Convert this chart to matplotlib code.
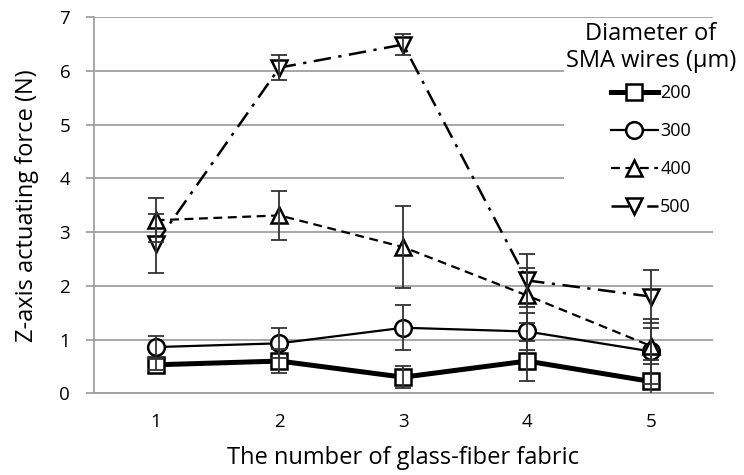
import matplotlib
matplotlib.use("Agg")
import matplotlib.pyplot as plt

plt.rcParams['font.family'] = ['Open Sans', 'DejaVu Sans']

x = [1, 2, 3, 4, 5]
labels = ["200", "300", "400", "500"]
v200 = [0.53, 0.60, 0.30, 0.60, 0.22]
e200 = [0.10, 0.22, 0.20, 0.37, 0.40]
v300 = [0.86, 0.93, 1.22, 1.15, 0.78]
e300 = [0.21, 0.28, 0.42, 0.35, 0.60]
v400 = [3.22, 3.31, 2.72, 1.82, 0.88]
e400 = [0.41, 0.46, 0.76, 0.52, 0.34]
v500 = [2.78, 6.06, 6.49, 2.10, 1.80]
e500 = [0.55, 0.23, 0.19, 0.50, 0.50]

fig = plt.figure(figsize=(7.44, 4.75), dpi=100)
ax = fig.add_axes([0.126, 0.172, 0.832, 0.792])

grey = '#a0a0a0'
ax.set_xlim(0.5, 5.5)
ax.set_ylim(0, 7)
ax.set_yticks(range(0, 8))
ax.set_xticks(x)
ax.yaxis.grid(True, color=grey, lw=1.3)
ax.set_axisbelow(True)
for s in ['top', 'right']:
    ax.spines[s].set_visible(False)
for s in ['left', 'bottom']:
    ax.spines[s].set_color(grey)
    ax.spines[s].set_linewidth(1.3)
ax.tick_params(axis='y', length=6, width=1.3, color=grey, labelsize=13.5, pad=11)
ax.tick_params(axis='x', length=0, labelsize=13.5, pad=14)

styles = [
    dict(values=v200, err=e200, marker='s', lw=3.6, ls='-', ms=11),
    dict(values=v300, err=e300, marker='o', lw=1.6, ls='-', ms=12),
    dict(values=v400, err=e400, marker='^', lw=1.6, ls=(0, (4, 2.5)), ms=12),
    dict(values=v500, err=e500, marker='v', lw=1.8, ls=(0, (7, 3, 1.3, 3)), ms=12),
]
handles = []
for lab, st in zip(labels, styles):
    h, = ax.plot(x, st['values'], color='black', lw=st['lw'], ls=st['ls'],
                 marker=st['marker'], ms=st['ms'], mfc='white', mec='black',
                 mew=1.8, zorder=3, label=lab)
    ax.errorbar(x, st['values'], yerr=st['err'], fmt='none', ecolor='#333333',
                elinewidth=1.3, capsize=5.5, capthick=1.3, zorder=4)
    handles.append(h)

ax.set_xlabel("The number of glass-fiber fabric", fontsize=17, labelpad=11)
ax.set_ylabel("Z-axis actuating force (N)", fontsize=17, labelpad=15)

leg = ax.legend(handles=handles, title="Diameter of\nSMA wires (μm)",
                loc='upper center', bbox_to_anchor=(0.9, 0.993),
                fontsize=13, title_fontsize=17, frameon=True,
                handlelength=2.6, handletextpad=0.15, labelspacing=1.1,
                borderaxespad=0.0, borderpad=0.1, alignment='center')
leg._legend_box.sep = 8
leg.get_frame().set_facecolor('white')
leg.get_frame().set_edgecolor('none')
leg.get_frame().set_alpha(1)
leg.get_title().set_multialignment('center')

fig.savefig("out.png", dpi=100)
